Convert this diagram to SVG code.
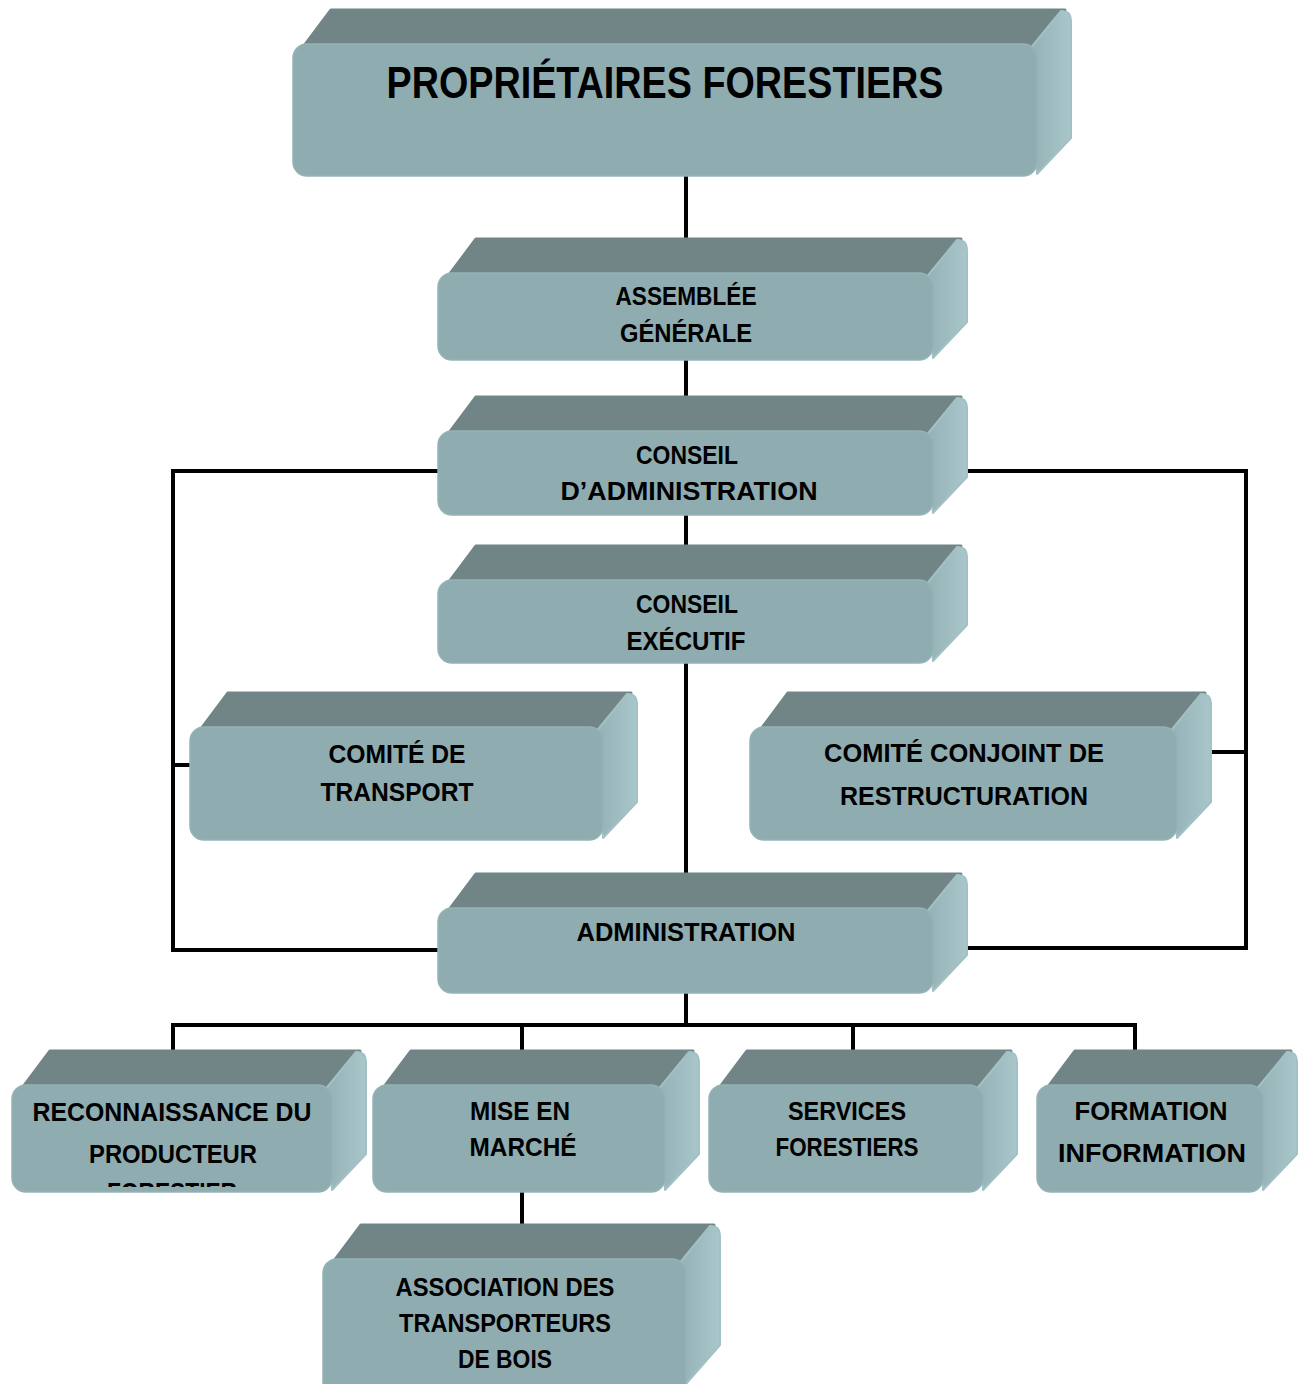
<svg xmlns="http://www.w3.org/2000/svg" width="1301" height="1384" viewBox="0 0 1301 1384">
<defs>
<linearGradient id="rg" x1="0" y1="0" x2="1" y2="0">
<stop offset="0" stop-color="#93b1b4"/>
<stop offset="1" stop-color="#a9c7ca"/>
</linearGradient>
<clipPath id="clipRec"><rect x="12" y="1170" width="320" height="17"/></clipPath>
</defs>
<style>
.top{fill:#718587;stroke:#718587;stroke-width:3;stroke-linejoin:round}
.side{fill:url(#rg);stroke:#a3c1c4;stroke-width:2;stroke-linejoin:round}
.front{fill:#8fadb0;stroke:#95b3b6;stroke-width:1.5}
.lbl{font-family:"Liberation Sans",Arial,sans-serif;font-weight:bold;font-size:26px;fill:#000;text-anchor:middle}
.big{font-size:44px}
.con{fill:none;stroke:#000;stroke-width:4;stroke-linecap:square}
</style>
<rect width="1301" height="1384" fill="#fff"/>
<g id="connectors">
<path class="con" d="M686,176 V273 M686,360 V431 M686,515 V580 M686,663 V908"/>
<path class="con" d="M438,471 H173 V950 H438 M967,471 H1246 V948 H967 M173,765 H190 M1211,752 H1246"/>
<path class="con" d="M686,993 V1025 M173,1025 H1135 M173,1025 V1051 M522,1025 V1051 M853,1025 V1051 M1135,1025 V1051 M522,1192 V1225"/>
</g>
<g id="proprietaires">
<path class="top" d="M295,58 L331,10 L1065,10 L1037,54 Z"/>
<path class="side" d="M1029,50 L1061,11 Q1071,10 1071,22 L1071,138 L1037,174 Z"/>
<rect class="front" x="293" y="44" width="744" height="132" rx="14"/>
<text class="lbl big" x="665" y="98" textLength="557" lengthAdjust="spacingAndGlyphs">PROPRIÉTAIRES FORESTIERS</text>
</g>
<g id="assemblee">
<path class="top" d="M440,287 L476,239 L961,239 L933,283 Z"/>
<path class="side" d="M925,279 L957,240 Q967,239 967,251 L967,322 L933,358 Z"/>
<rect class="front" x="438" y="273" width="495" height="87" rx="14"/>
<text class="lbl" x="686" y="305" textLength="141" lengthAdjust="spacingAndGlyphs">ASSEMBLÉE</text>
<text class="lbl" x="686" y="342" textLength="132" lengthAdjust="spacingAndGlyphs">GÉNÉRALE</text>
</g>
<g id="conseil-admin">
<path class="top" d="M440,445 L476,397 L961,397 L933,441 Z"/>
<path class="side" d="M925,437 L957,398 Q967,397 967,409 L967,477 L933,513 Z"/>
<rect class="front" x="438" y="431" width="495" height="84" rx="14"/>
<text class="lbl" x="687" y="464" textLength="102" lengthAdjust="spacingAndGlyphs">CONSEIL</text>
<text class="lbl" x="689" y="500" textLength="257" lengthAdjust="spacingAndGlyphs">D’ADMINISTRATION</text>
</g>
<g id="conseil-executif">
<path class="top" d="M440,594 L476,546 L961,546 L933,590 Z"/>
<path class="side" d="M925,586 L957,547 Q967,546 967,558 L967,625 L933,661 Z"/>
<rect class="front" x="438" y="580" width="495" height="83" rx="14"/>
<text class="lbl" x="687" y="613" textLength="102" lengthAdjust="spacingAndGlyphs">CONSEIL</text>
<text class="lbl" x="686" y="650" textLength="119" lengthAdjust="spacingAndGlyphs">EXÉCUTIF</text>
</g>
<g id="comite-transport">
<path class="top" d="M192,741 L228,693 L631,693 L603,737 Z"/>
<path class="side" d="M595,733 L627,694 Q637,693 637,705 L637,802 L603,838 Z"/>
<rect class="front" x="190" y="727" width="413" height="113" rx="14"/>
<text class="lbl" x="397" y="763" textLength="137" lengthAdjust="spacingAndGlyphs">COMITÉ DE</text>
<text class="lbl" x="397" y="801" textLength="153" lengthAdjust="spacingAndGlyphs">TRANSPORT</text>
</g>
<g id="comite-conjoint">
<path class="top" d="M752,741 L788,693 L1205,693 L1177,737 Z"/>
<path class="side" d="M1169,733 L1201,694 Q1211,693 1211,705 L1211,802 L1177,838 Z"/>
<rect class="front" x="750" y="727" width="427" height="113" rx="14"/>
<text class="lbl" x="964" y="762" textLength="280" lengthAdjust="spacingAndGlyphs">COMITÉ CONJOINT DE</text>
<text class="lbl" x="964" y="805" textLength="248" lengthAdjust="spacingAndGlyphs">RESTRUCTURATION</text>
</g>
<g id="administration">
<path class="top" d="M440,922 L476,874 L961,874 L933,918 Z"/>
<path class="side" d="M925,914 L957,875 Q967,874 967,886 L967,955 L933,991 Z"/>
<rect class="front" x="438" y="908" width="495" height="85" rx="14"/>
<text class="lbl" x="686" y="941" textLength="219" lengthAdjust="spacingAndGlyphs">ADMINISTRATION</text>
</g>
<g id="reconnaissance">
<path class="top" d="M14,1099 L50,1051 L360,1051 L332,1095 Z"/>
<path class="side" d="M324,1091 L356,1052 Q366,1051 366,1063 L366,1154 L332,1190 Z"/>
<rect class="front" x="12" y="1085" width="320" height="107" rx="14"/>
<text class="lbl" x="172" y="1121" textLength="279" lengthAdjust="spacingAndGlyphs">RECONNAISSANCE DU</text>
<text class="lbl" x="173" y="1163" textLength="168" lengthAdjust="spacingAndGlyphs">PRODUCTEUR</text>
<text class="lbl" x="172" y="1201" textLength="130" lengthAdjust="spacingAndGlyphs" clip-path="url(#clipRec)">FORESTIER</text>
</g>
<g id="mise-en-marche">
<path class="top" d="M375,1099 L411,1051 L693,1051 L665,1095 Z"/>
<path class="side" d="M657,1091 L689,1052 Q699,1051 699,1063 L699,1154 L665,1190 Z"/>
<rect class="front" x="373" y="1085" width="292" height="107" rx="14"/>
<text class="lbl" x="520" y="1120" textLength="100" lengthAdjust="spacingAndGlyphs">MISE EN</text>
<text class="lbl" x="523" y="1156" textLength="107" lengthAdjust="spacingAndGlyphs">MARCHÉ</text>
</g>
<g id="services">
<path class="top" d="M711,1099 L747,1051 L1011,1051 L983,1095 Z"/>
<path class="side" d="M975,1091 L1007,1052 Q1017,1051 1017,1063 L1017,1154 L983,1190 Z"/>
<rect class="front" x="709" y="1085" width="274" height="107" rx="14"/>
<text class="lbl" x="847" y="1120" textLength="118" lengthAdjust="spacingAndGlyphs">SERVICES</text>
<text class="lbl" x="847" y="1156" textLength="143" lengthAdjust="spacingAndGlyphs">FORESTIERS</text>
</g>
<g id="formation">
<path class="top" d="M1039,1099 L1075,1051 L1291,1051 L1263,1095 Z"/>
<path class="side" d="M1255,1091 L1287,1052 Q1297,1051 1297,1063 L1297,1154 L1263,1190 Z"/>
<rect class="front" x="1037" y="1085" width="226" height="107" rx="14"/>
<text class="lbl" x="1151" y="1120" textLength="153" lengthAdjust="spacingAndGlyphs">FORMATION</text>
<text class="lbl" x="1152" y="1162" textLength="188" lengthAdjust="spacingAndGlyphs">INFORMATION</text>
</g>
<g id="association">
<path class="top" d="M325,1273 L361,1225 L714,1225 L686,1269 Z"/>
<path class="side" d="M678,1265 L710,1226 Q720,1225 720,1237 L720,1345 L686,1384 L686,1395 Z"/>
<rect class="front" x="323" y="1259" width="363" height="140" rx="14"/>
<text class="lbl" x="505" y="1296" textLength="219" lengthAdjust="spacingAndGlyphs">ASSOCIATION DES</text>
<text class="lbl" x="505" y="1332" textLength="212" lengthAdjust="spacingAndGlyphs">TRANSPORTEURS</text>
<text class="lbl" x="505" y="1368" textLength="94" lengthAdjust="spacingAndGlyphs">DE BOIS</text>
</g>
</svg>
